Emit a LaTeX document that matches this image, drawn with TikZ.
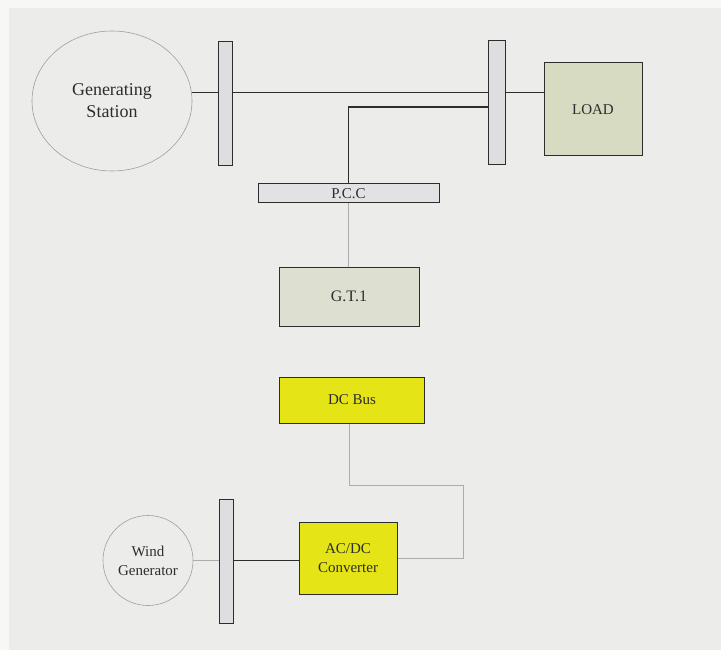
\documentclass[tikz,border=0pt]{standalone}
\usepackage{fontspec}
\setmainfont{Liberation Serif}
\usepackage{xcolor}
\usetikzlibrary{shapes.geometric}
\definecolor{paper}{RGB}{236,236,234}
\definecolor{rim}{RGB}{247,247,246}
\definecolor{ink}{RGB}{45,45,45}
\definecolor{busgray}{RGB}{222,222,225}
\definecolor{pccgray}{RGB}{226,226,228}
\definecolor{loadgreen}{RGB}{214,219,193}
\definecolor{gtgreen}{RGB}{221,223,209}
\definecolor{dcyellow}{RGB}{229,228,22}

\begin{document}
\begin{tikzpicture}[x=1pt,y=-1pt,
    bus/.style={draw=ink,fill=busgray,line width=1pt,inner sep=0pt,minimum height=124pt},
    block/.style={draw=ink,line width=1pt,inner sep=0pt,text=ink,align=center,font=\fontsize{15}{19}\selectfont},
    source/.style={draw=gray!75,line width=0.6pt,inner sep=0pt,text=ink,align=center,font=\fontsize{15}{19}\selectfont},
    feeder/.style={draw=ink,line width=1.1pt},
    link/.style={draw=gray!65,line width=0.8pt}]
      \fill [rim] (0,0) rectangle (721,650);
      \fill [paper] (9,8) rectangle (721,650);
      \node (GS) [source,ellipse,minimum width=160pt,minimum height=140pt,font=\fontsize{18}{22}\selectfont] at (112,101) {Generating\\Station};
      \node (B1) [bus,minimum width=14pt] at (225,104) {};
      \node (B2) [bus,minimum width=17pt] at (497,103) {};
      \node (LOAD) [block,fill=loadgreen,minimum width=98pt,minimum height=93pt] at (593,109.5) {LOAD};
      \node (PCC) [block,fill=pccgray,minimum width=181pt,minimum height=19pt] at (348.5,193.5) {P.C.C};
      \node (GT) [block,fill=gtgreen,minimum width=140pt,minimum height=59pt,font=\fontsize{16}{19}\selectfont] at (349,296.5) {G.T.1};
      \node (DC) [block,fill=dcyellow,minimum width=145pt,minimum height=46pt] at (352,400) {DC Bus};
      \node (CONV) [block,fill=dcyellow,minimum width=98pt,minimum height=72pt] at (348,558) {AC/DC\\Converter};
      \node (B3) [bus,minimum width=14pt] at (226,561) {};
      \node (WG) [source,circle,minimum size=90pt] at (148,560.5) {Wind\\Generator};
      \coordinate (tap) at (497,107);
      \coordinate (bend) at (463,485);
      \draw [feeder] (GS.6) to (GS.6 -| B1.west);
      \draw [feeder] (B1.east |- GS.6) to (B2.west |- GS.6);
      \draw [feeder] (B2.east |- GS.6) to (LOAD.west |- GS.6);
      \draw [feeder] (B2.west |- tap) -| (PCC.north);
      \draw [link] (PCC.south) to (PCC.south |- GT.north);
      \draw [link] (DC.south -| GT.south) |- (bend) |- (CONV.east);
      \draw [link] (WG.east) to (B3.west |- WG.east);
      \draw [feeder] (B3.east |- WG.east) to (CONV.west |- WG.east);
    \end{tikzpicture}
\end{document}
